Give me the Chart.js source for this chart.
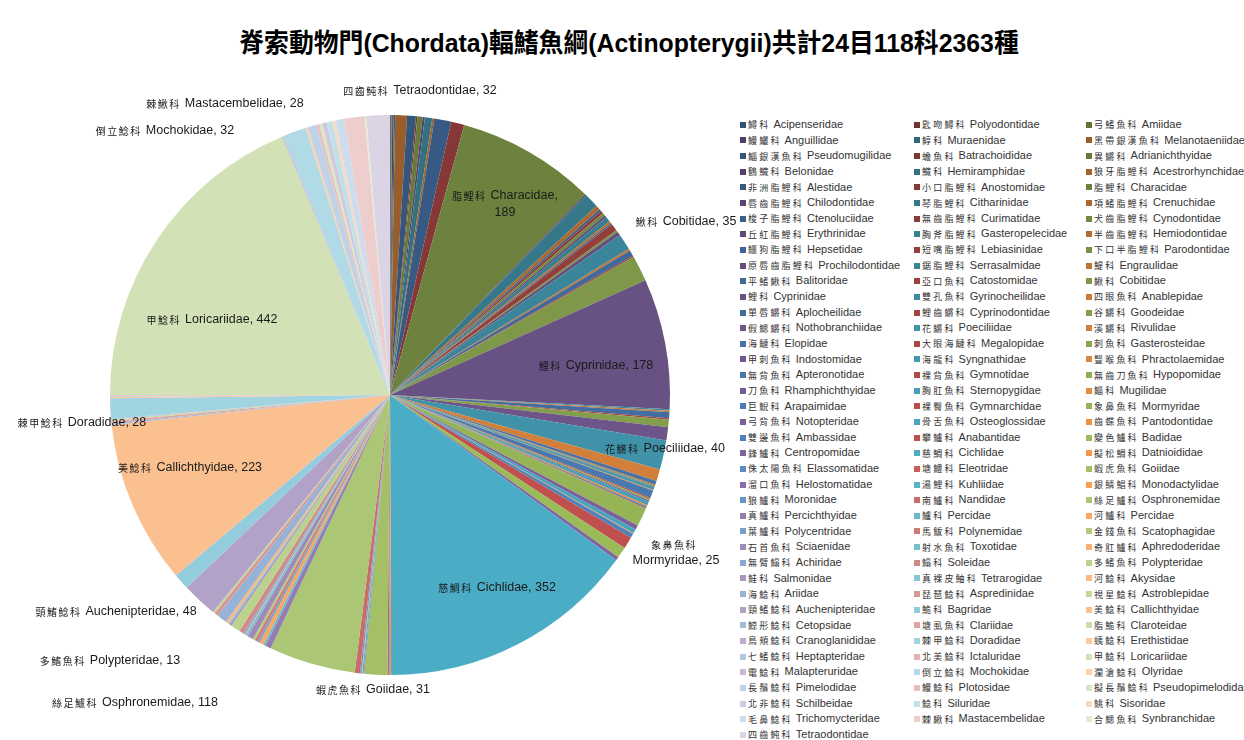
<!DOCTYPE html>
<html>
<head>
<meta charset="utf-8">
<script src="https://cdn.jsdelivr.net/npm/chart.js@4.4.1/dist/chart.umd.min.js"></script>
<style>
    html, body { margin: 0; padding: 0; background: #fff; }
    body { width: 1244px; height: 740px; position: relative; overflow: hidden; font-family: "Liberation Sans", Arial, sans-serif; }
    #title { position: absolute; left: 0; top: 22px; width: 1258px; text-align: center; font: bold 26px "Liberation Sans", "Noto Sans CJK TC", sans-serif; color: #000; white-space: nowrap; transform: scaleX(0.955); transform-origin: 629px 0; }
    #chartBox { position: absolute; left: 0; top: 0; width: 740px; height: 740px; }
    #legend { position: absolute; left: 740px; top: 117px; display: grid; grid-template-columns: 174px 172px 160px; grid-auto-rows: 15.65px; }
    .item { white-space: nowrap; font-size: 11px; line-height: 15.65px; color: #333; display: flex; align-items: center; overflow: hidden; }
    .sw { width: 6px; height: 6px; flex: none; margin-right: 2px; }
    .zh { font: 9px "Noto Sans CJK TC", sans-serif; letter-spacing: 2.2px; margin-right: 3px; }
</style>
</head>
<body>
<div id="title">脊索動物門(Chordata)輻鰭魚綱(Actinopterygii)共計24目118科2363種</div>
<div id="chartBox"><canvas id="fishPieChart"></canvas></div>
<div id="legend"></div>
<script>
const familiesZh = [
    '鱘科', '匙吻鱘科', '弓鰭魚科', '鰻鱺科', '鯙科', '黑帶銀漢魚科',
    '鯔銀漢魚科', '蟾魚科', '異鱂科', '鶴鱵科', '鱵科', '狼牙脂鯉科',
    '非洲脂鯉科', '小口脂鯉科', '脂鯉科', '唇齒脂鯉科', '琴脂鯉科', '項鰭脂鯉科',
    '梭子脂鯉科', '無齒脂鯉科', '犬齒脂鯉科', '丘紅脂鯉科', '胸斧脂鯉科', '半齒脂鯉科',
    '鱷狗脂鯉科', '短嘴脂鯉科', '下口半脂鯉科', '原唇齒脂鯉科', '鋸脂鯉科', '鯷科',
    '平鰭鰍科', '亞口魚科', '鰍科', '鯉科', '雙孔魚科', '四眼魚科',
    '單唇鱂科', '鯉齒鱂科', '谷鱂科', '假鰓鱂科', '花鱂科', '溪鱂科',
    '海鰱科', '大眼海鰱科', '刺魚科', '甲刺魚科', '海龍科', '豎喉魚科',
    '無背魚科', '裸背魚科', '無齒刀魚科', '刀魚科', '胸肛魚科', '鯔科',
    '巨鯢科', '裸臀魚科', '象鼻魚科', '弓背魚科', '骨舌魚科', '齒蝶魚科',
    '雙邊魚科', '攀鱸科', '變色鱸科', '鋒鱸科', '慈鯛科', '擬松鯛科',
    '侏太陽魚科', '塘鱧科', '蝦虎魚科', '溜口魚科', '湯鯉科', '銀鱗鯧科',
    '狼鱸科', '南鱸科', '絲足鱸科', '真鱸科', '鱸科', '河鱸科',
    '葉鱸科', '馬鮁科', '金錢魚科', '石首魚科', '射水魚科', '奇肛鱸科',
    '無臂鰨科', '鰨科', '多鰭魚科', '鮭科', '真裸皮鮋科', '河鯰科',
    '海鯰科', '琵琶鯰科', '視星鯰科', '頸鰭鯰科', '鮠科', '美鯰科',
    '鯨形鯰科', '塘虱魚科', '脂鮠科', '鳥頰鯰科', '棘甲鯰科', '蛦鯰科',
    '七鰭鯰科', '北美鯰科', '甲鯰科', '電鯰科', '倒立鯰科', '瀾滄鯰科',
    '長鬚鯰科', '鰻鯰科', '擬長鬚鯰科', '北非鯰科', '鯰科', '鮡科',
    '毛鼻鯰科', '棘鰍科', '合鰓魚科', '四齒魨科'
];

const familiesEn = [
    'Acipenseridae', 'Polyodontidae', 'Amiidae', 'Anguillidae', 'Muraenidae', 'Melanotaeniidae',
    'Pseudomugilidae', 'Batrachoididae', 'Adrianichthyidae', 'Belonidae', 'Hemiramphidae', 'Acestrorhynchidae',
    'Alestidae', 'Anostomidae', 'Characidae', 'Chilodontidae', 'Citharinidae', 'Crenuchidae',
    'Ctenoluciidae', 'Curimatidae', 'Cynodontidae', 'Erythrinidae', 'Gasteropelecidae', 'Hemiodontidae',
    'Hepsetidae', 'Lebiasinidae', 'Parodontidae', 'Prochilodontidae', 'Serrasalmidae', 'Engraulidae',
    'Balitoridae', 'Catostomidae', 'Cobitidae', 'Cyprinidae', 'Gyrinocheilidae', 'Anablepidae',
    'Aplocheilidae', 'Cyprinodontidae', 'Goodeidae', 'Nothobranchiidae', 'Poeciliidae', 'Rivulidae',
    'Elopidae', 'Megalopidae', 'Gasterosteidae', 'Indostomidae', 'Syngnathidae', 'Phractolaemidae',
    'Apteronotidae', 'Gymnotidae', 'Hypopomidae', 'Rhamphichthyidae', 'Sternopygidae', 'Mugilidae',
    'Arapaimidae', 'Gymnarchidae', 'Mormyridae', 'Notopteridae', 'Osteoglossidae', 'Pantodontidae',
    'Ambassidae', 'Anabantidae', 'Badidae', 'Centropomidae', 'Cichlidae', 'Datnioididae',
    'Elassomatidae', 'Eleotridae', 'Goiidae', 'Helostomatidae', 'Kuhliidae', 'Monodactylidae',
    'Moronidae', 'Nandidae', 'Osphronemidae', 'Percichthyidae', 'Percidae', 'Percidae',
    'Polycentridae', 'Polynemidae', 'Scatophagidae', 'Sciaenidae', 'Toxotidae', 'Aphredoderidae',
    'Achiridae', 'Soleidae', 'Polypteridae', 'Salmonidae', 'Tetrarogidae', 'Akysidae',
    'Ariidae', 'Aspredinidae', 'Astroblepidae', 'Auchenipteridae', 'Bagridae', 'Callichthyidae',
    'Cetopsidae', 'Clariidae', 'Claroteidae', 'Cranoglanididae', 'Doradidae', 'Erethistidae',
    'Heptapteridae', 'Ictaluridae', 'Loricariidae', 'Malapteruridae', 'Mochokidae', 'Olyridae',
    'Pimelodidae', 'Plotosidae', 'Pseudopimelodidae', 'Schilbeidae', 'Siluridae', 'Sisoridae',
    'Trichomycteridae', 'Mastacembelidae', 'Synbranchidae', 'Tetraodontidae'
];

const speciesCounts = [
    1, 1, 1, 2, 2, 16,
    12, 2, 7, 3, 10, 3,
    23, 18, 189, 2, 20, 6,
    3, 4, 4, 3, 7, 3,
    2, 10, 3, 5, 22, 3,
    8, 2, 35, 178, 2, 2,
    8, 2, 10, 18, 40, 16,
    5, 1, 2, 1, 4, 1,
    10, 2, 2, 2, 5, 2,
    2, 1, 25, 6, 6, 1,
    6, 16, 15, 5, 352, 2,
    1, 2, 31, 1, 2, 1,
    2, 7, 118, 8, 3, 6,
    3, 4, 3, 8, 3, 1,
    3, 6, 13, 3, 2, 4,
    14, 5, 3, 48, 22, 223,
    2, 3, 2, 1, 28, 2,
    1, 1, 442, 2, 32, 3,
    12, 4, 4, 6, 8, 4,
    12, 28, 2, 32
];

// families that carry a data label on the pie
const labeledFamilies = [14, 32, 33, 40, 56, 64, 68, 74, 86, 93, 95, 100, 104, 106, 115, 117];

// where each data label sits (layout only)
const labelPlacement = {
    14: { x: 505, y: 196, lines: 2 },
    32: { x: 686, y: 222 },
    33: { x: 596, y: 366 },
    40: { x: 665, y: 449 },
    56: { x: 676, y: 545, lines: 2 },
    64: { x: 497, y: 588 },
    68: { x: 373, y: 690 },
    74: { x: 135, y: 703 },
    86: { x: 110, y: 661 },
    93: { x: 116, y: 612 },
    95: { x: 190, y: 468 },
    100: { x: 82, y: 423 },
    104: { x: 212, y: 320 },
    106: { x: 165, y: 131 },
    115: { x: 225, y: 104 },
    117: { x: 420, y: 91 }
};

const accentColors = ['#4F81BD', '#C0504D', '#9BBB59', '#8064A2', '#4BACC6', '#F79646'];

function sliceColor(index) {
    const hex = accentColors[index % 6];
    const rgb = [1, 3, 5].map(function (p) { return parseInt(hex.substr(p, 2), 16); });
    const group = Math.floor(index / 6);
    let out;
    if (group <= 10) {
        const shade = 0.62 + 0.038 * group;
        out = rgb.map(function (c) { return Math.round(c * shade); });
    } else {
        const tint = (group - 10) * 0.08;
        out = rgb.map(function (c) { return Math.round(c + (255 - c) * tint); });
    }
    return 'rgb(' + out.join(',') + ')';
}

const sliceColors = speciesCounts.map(function (v, i) { return sliceColor(i); });

function drawMixed(ctx, zh, en, cx, cy) {
    const zhFont = '10px "Noto Sans CJK TC", sans-serif';
    const enFont = '12.5px "Liberation Sans", Arial, sans-serif';
    ctx.font = zhFont;
    ctx.letterSpacing = '1.5px';
    const zhW = zh ? ctx.measureText(zh).width + 4 : 0;
    ctx.font = enFont;
    ctx.letterSpacing = '0px';
    const enW = ctx.measureText(en).width;
    let x = cx - (zhW + enW) / 2;
    if (zh) {
        ctx.font = zhFont;
        ctx.letterSpacing = '1.5px';
        ctx.fillText(zh, x, cy);
        x += zhW;
    }
    ctx.font = enFont;
    ctx.letterSpacing = '0px';
    ctx.fillText(en, x, cy);
}

const sliceLabelPlugin = {
    id: 'sliceLabels',
    afterDatasetsDraw: function (chart) {
        const ctx = chart.ctx;
        ctx.save();
        ctx.fillStyle = '#1a1a1a';
        ctx.textAlign = 'left';
        ctx.textBaseline = 'middle';
        labeledFamilies.forEach(function (i) {
            const pos = labelPlacement[i];
            const zh = familiesZh[i];
            const en = familiesEn[i];
            const value = speciesCounts[i];
            if (pos.lines === 2 && i === 56) {
                drawMixed(ctx, zh, '', pos.x, pos.y);
                drawMixed(ctx, '', en + ', ' + value, pos.x, pos.y + 16);
            } else if (pos.lines === 2) {
                drawMixed(ctx, zh, en + ',', pos.x, pos.y);
                drawMixed(ctx, '', String(value), pos.x, pos.y + 17);
            } else {
                drawMixed(ctx, zh, en + ', ' + value, pos.x, pos.y);
            }
        });
        ctx.restore();
    }
};

function buildLegend() {
    const box = document.getElementById('legend');
    familiesEn.forEach(function (en, i) {
        const item = document.createElement('div');
        item.className = 'item';
        const sw = document.createElement('span');
        sw.className = 'sw';
        sw.style.background = sliceColors[i];
        const zh = document.createElement('span');
        zh.className = 'zh';
        zh.textContent = familiesZh[i];
        const name = document.createElement('span');
        name.textContent = en;
        item.appendChild(sw);
        item.appendChild(zh);
        item.appendChild(name);
        box.appendChild(item);
    });
}

function createFishPieChart() {
    const canvas = document.getElementById('fishPieChart');
    if (!canvas || typeof Chart === 'undefined') return;

    window.fishPieChart = new Chart(canvas, {
        type: 'pie',
        data: {
            labels: familiesEn,
            datasets: [{
                data: speciesCounts,
                backgroundColor: sliceColors,
                borderWidth: 0,
                hoverOffset: 0
            }]
        },
        options: {
            responsive: true,
            maintainAspectRatio: false,
            animation: false,
            layout: {
                padding: { left: 110, right: 70, top: 115, bottom: 65 }
            },
            plugins: {
                legend: { display: false },
                tooltip: { enabled: false }
            }
        },
        plugins: [sliceLabelPlugin]
    });
}

buildLegend();
createFishPieChart();
</script>
</body>
</html>
